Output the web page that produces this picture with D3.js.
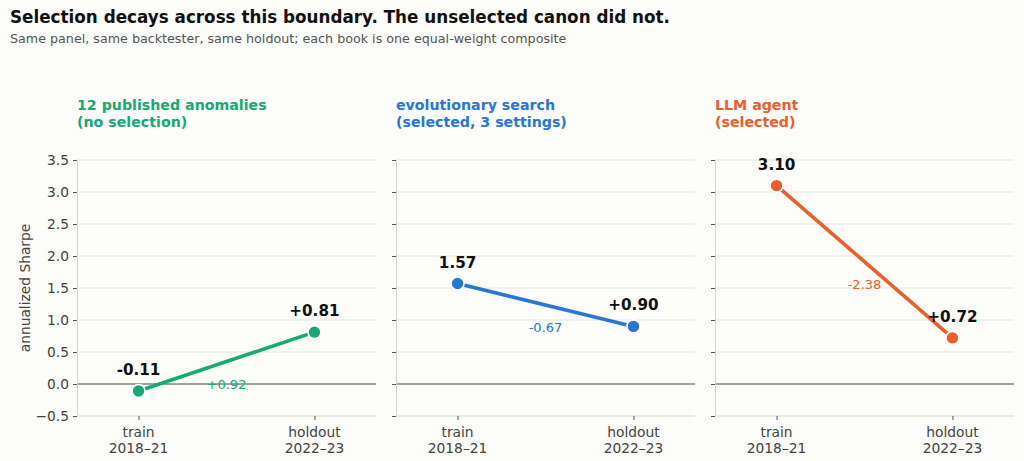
<!DOCTYPE html>
<html>
<head>
<meta charset="utf-8">
<script src="https://cdn.jsdelivr.net/npm/d3@7"></script>
<style>
  body { margin: 0; background: #fcfcfa; }
  svg { display: block; font-family: "DejaVu Sans", sans-serif; }
</style>
</head>
<body>
<script>
const periods = ["train", "holdout"];
const periodYears = ["2018–21", "2022–23"];
const books = ["12 published anomalies", "evolutionary search", "LLM agent"];
const bookNotes = ["(no selection)", "(selected, 3 settings)", "(selected)"];
const colors = ["#17a974", "#2877d5", "#e8602c"];
const trainSharpe = [-0.11, 1.57, 3.10];
const holdoutSharpe = [0.81, 0.90, 0.72];
const trainLabels = ["-0.11", "1.57", "3.10"];
const holdoutLabels = ["+0.81", "+0.90", "+0.72"];
const yTicks = [-0.5, 0, 0.5, 1, 1.5, 2, 2.5, 3, 3.5];

const width = 1024, height = 461;
const svg = d3.select("body").append("svg")
  .attr("width", width)
  .attr("height", height);

svg.append("rect").attr("width", width).attr("height", height).attr("fill", "#fcfcfa");

svg.append("text")
  .attr("x", 10).attr("y", 23)
  .style("font-size", "16.8px").style("font-weight", "bold").attr("fill", "#111")
  .text("Selection decays across this boundary. The unselected canon did not.");
svg.append("text")
  .attr("x", 10).attr("y", 43)
  .style("font-size", "12.7px").attr("fill", "#555")
  .text("Same panel, same backtester, same holdout; each book is one equal-weight composite");

const panelW = 299, gap = 20, left0 = 77, plotTop = 160, plotBottom = 416;

const y = d3.scaleLinear().domain([-0.5, 3.5]).range([plotBottom, plotTop]);
const x = d3.scaleLinear().domain([-0.35, 1.35]).range([0, panelW]);

svg.append("text")
  .attr("transform", `translate(30,${(plotTop + plotBottom) / 2}) rotate(-90)`)
  .attr("text-anchor", "middle")
  .style("font-size", "13.8px").attr("fill", "#444")
  .text("annualized Sharpe");

books.forEach((book, i) => {
  const g = svg.append("g").attr("transform", `translate(${left0 + i * (panelW + gap)},0)`);
  const color = colors[i];

  // grid
  g.selectAll(".grid").data(yTicks).join("line")
    .attr("x1", 0).attr("x2", panelW)
    .attr("y1", d => y(d)).attr("y2", d => y(d))
    .attr("stroke", "#e4e4e2").attr("stroke-width", 1);

  // zero line
  g.append("line")
    .attr("x1", 0).attr("x2", panelW)
    .attr("y1", y(0)).attr("y2", y(0))
    .attr("stroke", "#888").attr("stroke-width", 1.3);

  // y axis
  const yAxis = d3.axisLeft(y).tickValues(yTicks).tickSize(4).tickPadding(4)
    .tickFormat(i === 0 ? d => d3.format(".1f")(d).replace("-", "−") : "");
  const ya = g.append("g").call(yAxis);
  ya.select(".domain").attr("stroke", "#d4d4d2");
  ya.selectAll(".tick line").attr("stroke", "#555");
  ya.selectAll(".tick text").style("font-size", "13.8px").attr("fill", "#444")
    .style("font-family", "DejaVu Sans, sans-serif");

  // bottom spine
  g.append("line")
    .attr("x1", 0).attr("x2", panelW)
    .attr("y1", plotBottom).attr("y2", plotBottom)
    .attr("stroke", "#e4e4e2");

  // x ticks
  const xa = g.append("g").attr("transform", `translate(0,${plotBottom})`)
    .call(d3.axisBottom(x).tickValues([0, 1]).tickSize(4).tickFormat(""));
  xa.select(".domain").remove();
  xa.selectAll(".tick line").attr("stroke", "#555");
  [0, 1].forEach(k => {
    const t = g.append("text")
      .attr("x", x(k)).attr("y", plotBottom + 21)
      .attr("text-anchor", "middle")
      .style("font-size", "13.8px").attr("fill", "#444");
    t.append("tspan").attr("x", x(k)).text(periods[k]);
    t.append("tspan").attr("x", x(k)).attr("dy", 15.5).text(periodYears[k]);
  });

  // panel title
  const tt = g.append("text").attr("x", 0).attr("y", 110)
    .style("font-size", "14.2px").style("font-weight", "bold").attr("fill", color);
  tt.append("tspan").attr("x", 0).text(book);
  tt.append("tspan").attr("x", 0).attr("dy", 17).text(bookNotes[i]);

  const vals = [trainSharpe[i], holdoutSharpe[i]];
  g.append("path")
    .datum(vals)
    .attr("d", d3.line().x((d, k) => x(k)).y(d => y(d)))
    .attr("fill", "none").attr("stroke", color).attr("stroke-width", 3.6);

  g.selectAll(".pt").data(vals).join("circle")
    .attr("cx", (d, k) => x(k)).attr("cy", d => y(d))
    .attr("r", 6.5)
    .attr("fill", color).attr("stroke", "#fff").attr("stroke-width", 1.6);

  const labels = [trainLabels[i], holdoutLabels[i]];
  g.selectAll(".lbl").data(vals).join("text")
    .attr("x", (d, k) => x(k)).attr("y", d => y(d) - 16)
    .attr("text-anchor", "middle")
    .style("font-size", "15.2px").style("font-weight", "bold").attr("fill", "#111")
    .text((d, k) => labels[k]);

  const delta = holdoutSharpe[i] - trainSharpe[i];
  g.append("text")
    .attr("x", x(0.5)).attr("y", y((vals[0] + vals[1]) / 2) + 27)
    .attr("text-anchor", "middle")
    .style("font-size", "13px").attr("fill", color)
    .text((delta >= 0 ? "+" : "") + delta.toFixed(2));
});
</script>
</body>
</html>
